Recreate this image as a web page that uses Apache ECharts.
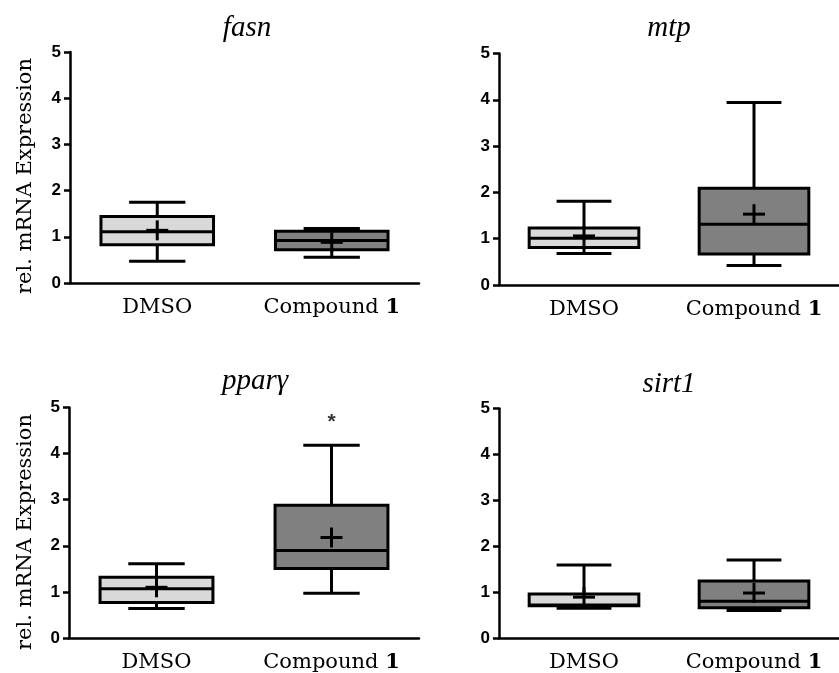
<!DOCTYPE html>
<html>
<head>
<meta charset="utf-8">
<script src="https://cdn.jsdelivr.net/npm/echarts@6/dist/echarts.min.js"></script>
<style>html,body{margin:0;padding:0;background:#fff}#c{width:839px;height:673px}</style>
</head>
<body>
<div id="c"></div>
<script>
// ---- data ----
const genes = ['fasn', 'mtp', 'pparγ', 'sirt1'];
const categories = ['DMSO', 'Compound 1'];
const yTicks = [0, 1, 2, 3, 4, 5];
// [whisker min, Q1, median, Q3, whisker max]
const fasnDMSO = [0.47, 0.83, 1.11, 1.44, 1.75];
const fasnCmpd = [0.56, 0.72, 0.92, 1.12, 1.18];
const mtpDMSO = [0.68, 0.81, 1.01, 1.23, 1.81];
const mtpCmpd = [0.42, 0.67, 1.31, 2.09, 3.94];
const ppargDMSO = [0.64, 0.77, 1.07, 1.32, 1.61];
const ppargCmpd = [0.97, 1.51, 1.90, 2.88, 4.18];
const sirt1DMSO = [0.65, 0.70, 0.72, 0.96, 1.59];
const sirt1Cmpd = [0.60, 0.66, 0.80, 1.24, 1.70];
// means (DMSO, Compound 1)
const fasnMean = [1.14, 0.88];
const mtpMean = [1.06, 1.53];
const ppargMean = [1.10, 2.18];
const sirt1Mean = [0.89, 0.98];
// significance marks (value position of '*')
const ppargStar = [null, 4.72];

const boxes = [[fasnDMSO, fasnCmpd], [mtpDMSO, mtpCmpd], [ppargDMSO, ppargCmpd], [sirt1DMSO, sirt1Cmpd]];
const means = [fasnMean, mtpMean, ppargMean, sirt1Mean];
const stars = [[null, null], [null, null], ppargStar, [null, null]];

// ---- style / layout ----
const fills = ['#d9d9d9', '#808080'];
const LW = 3;
const grids = [
  {left: 70, top: 52, width: 349, height: 231},
  {left: 499, top: 53.5, width: 346, height: 231.5},
  {left: 69, top: 407.5, width: 350, height: 231},
  {left: 499, top: 408.5, width: 346, height: 230}
];
const titlePos = [[247, 28], [669, 28], [255, 381], [669, 384]];
const yNamePos = [[26, 176], [26, 532]];

const serif = 'DejaVu Serif';

function renderBox(params, api) {
  const cat = api.value(0);
  const cx = api.coord([cat, 0])[0];
  const band = api.size([1, 0])[0];
  const bw = band * 0.645;
  const cw = bw / 2;
  const Y = i => api.coord([cat, api.value(i)])[1];
  const ymin = Y(1), q1 = Y(2), med = Y(3), q3 = Y(4), ymax = Y(5), mean = Y(6);
  const ls = {stroke: '#000', lineWidth: LW};
  return {
    type: 'group',
    children: [
      {type: 'line', shape: {x1: cx, y1: q3, x2: cx, y2: ymax}, style: ls},
      {type: 'line', shape: {x1: cx, y1: q1, x2: cx, y2: ymin}, style: ls},
      {type: 'line', shape: {x1: cx - cw / 2, y1: ymax, x2: cx + cw / 2, y2: ymax}, style: ls},
      {type: 'line', shape: {x1: cx - cw / 2, y1: ymin, x2: cx + cw / 2, y2: ymin}, style: ls},
      {type: 'rect', shape: {x: cx - bw / 2, y: q3, width: bw, height: q1 - q3},
        style: {fill: fills[cat], stroke: '#000', lineWidth: LW}},
      {type: 'line', shape: {x1: cx - bw / 2, y1: med, x2: cx + bw / 2, y2: med}, style: ls},
      {type: 'line', shape: {x1: cx - 11, y1: mean, x2: cx + 11, y2: mean}, style: ls},
      {type: 'line', shape: {x1: cx, y1: mean - 10, x2: cx, y2: mean + 10}, style: ls}
    ]
  };
}

const option = {
  animation: false,
  backgroundColor: '#fff',
  grid: grids.map(g => Object.assign({containLabel: false}, g)),
  xAxis: grids.map((g, i) => ({
    type: 'category', gridIndex: i, data: categories, boundaryGap: true,
    axisLine: {lineStyle: {color: '#000', width: 2.5}},
    axisTick: {alignWithLabel: true, length: 6, lineStyle: {color: '#000', width: 2.5}},
    axisLabel: {
      interval: 0, hideOverlap: false,
      margin: 14, color: '#000', fontFamily: serif, fontSize: 21,
      formatter: v => v === 'Compound 1' ? 'Compound {b|1}' : v,
      rich: {b: {fontFamily: serif, fontWeight: 'bold', fontSize: 21, color: '#000'}}
    },
    splitLine: {show: false}
  })),
  yAxis: grids.map((g, i) => ({
    type: 'value', gridIndex: i, min: yTicks[0], max: yTicks[yTicks.length - 1], interval: 1,
    axisLine: {show: true, lineStyle: {color: '#000', width: 2.5}},
    axisTick: {show: true, length: 6, lineStyle: {color: '#000', width: 2.5}},
    axisLabel: {margin: 9, color: '#000', fontFamily: 'Liberation Sans', fontWeight: 'bold', fontSize: 17},
    splitLine: {show: false}
  })),
  series: [
    ...boxes.map((pair, i) => ({
      type: 'custom', xAxisIndex: i, yAxisIndex: i, renderItem: renderBox, clip: false,
      encode: {x: 0, y: [1, 2, 3, 4, 5, 6]},
      data: pair.map((b, c) => [c].concat(b).concat([means[i][c]]))
    })),
    ...stars.map((s, i) => ({
      type: 'scatter', xAxisIndex: i, yAxisIndex: i, symbolSize: 0,
      data: s.map((v, c) => v == null ? null : [c, v]).filter(d => d),
      label: {show: true, position: 'inside', formatter: '*', color: '#000',
        fontFamily: 'Liberation Sans', fontWeight: 'bold', fontSize: 21, offset: [0, 2]}
    }))
  ],
  graphic: [
    ...genes.map((g, i) => ({
      type: 'text', x: titlePos[i][0], y: titlePos[i][1],
      style: {text: g, fill: '#000', font: 'italic 29px "Liberation Serif"', textAlign: 'center', textVerticalAlign: 'middle'}
    })),
    ...yNamePos.map(p => ({
      type: 'text', x: p[0], y: p[1], rotation: Math.PI / 2,
      style: {text: 'rel. mRNA Expression', fill: '#000', font: '21px "DejaVu Serif"', textAlign: 'center', textVerticalAlign: 'middle'}
    }))
  ]
};

const chart = echarts.init(document.getElementById('c'), null, {renderer: 'canvas'});
chart.setOption(option);
</script>
</body>
</html>
